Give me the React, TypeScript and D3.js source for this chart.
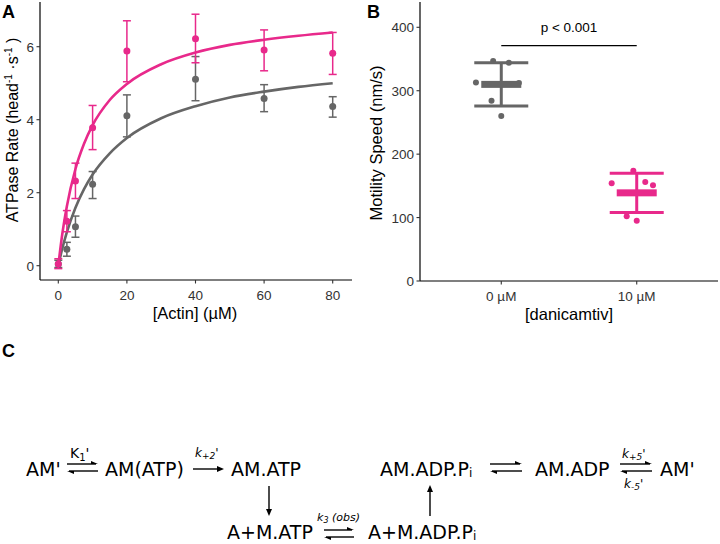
import React from "react";
import * as d3 from "d3";

// ---- Panel A: actin-activated ATPase ----
const actinConc = [0, 2.5, 5, 10, 20, 40, 60, 80];
const ctrlRate = [0.05, 0.45, 1.07, 2.23, 4.11, 5.11, 4.58, 4.36];
const ctrlLo = [-0.05, 0.26, 0.78, 1.84, 3.53, 4.52, 4.22, 4.07];
const ctrlHi = [0.15, 0.64, 1.36, 2.58, 4.68, 5.73, 4.96, 4.63];
const drugRate = [0.05, 1.22, 2.32, 3.78, 5.88, 6.22, 5.91, 5.82];
const drugLo = [-0.08, 0.93, 1.84, 3.18, 5.04, 5.56, 5.34, 5.24];
const drugHi = [0.19, 1.51, 2.81, 4.39, 6.71, 6.89, 6.46, 6.39];

// fitted curves
const fitX = [0, 1, 2.5, 5, 7.5, 10, 15, 20, 30, 40, 50, 60, 70, 80];
const ctrlFit = [0, 0.41, 0.92, 1.59, 2.1, 2.5, 3.08, 3.5, 4.04, 4.37, 4.61, 4.77, 4.9, 5.0];
const drugFit = [0, 0.76, 1.63, 2.65, 3.34, 3.85, 4.54, 4.98, 5.52, 5.84, 6.05, 6.19, 6.3, 6.39];

const ticksA_x = [0, 20, 40, 60, 80];
const ticksA_y = [0, 2, 4, 6];

// ---- Panel B: motility ----
const groups = ["0 µM", "10 µM"];
const speedMean = [310, 139];
const speedSd = [34, 31];
const ctrlSpeeds = [347, 344, 313, 312, 284, 260];
const ctrlJitter = [-0.06, 0.056, -0.187, 0.13, -0.072, 0];
const drugSpeeds = [154, 174, 156, 151, 102, 95];
const drugJitter = [-0.185, -0.025, 0.063, 0.12, -0.074, 0];
const sigY = 371;
const ticksB_y = [0, 100, 200, 300, 400];

const GRAY = "#666666";
const PINK = "#e8298b";
const SANS = "'Liberation Sans', Arial, Helvetica, sans-serif";
const DIAG = "'DejaVu Sans', sans-serif";

export default function App() {
  // panel A scales
  const xA = d3.scaleLinear().domain([0, 80]).range([58.3, 332.7]);
  const yA = d3.scaleLinear().domain([0, 6]).range([265.7, 46.7]);
  const lineA = d3
    .line<number>()
    .x((_, i) => xA(fitX[i]))
    .y((d) => yA(d))
    .curve(d3.curveMonotoneX);

  // panel B scales
  const xB = d3.scalePoint<string>().domain(groups).range([420, 718]).padding(0.6);
  const yB = d3.scaleLinear().domain([0, 400]).range([281, 27.3]);
  const step = xB.step();

  const series = [
    { rate: ctrlRate, lo: ctrlLo, hi: ctrlHi, fit: ctrlFit, color: GRAY },
    { rate: drugRate, lo: drugLo, hi: drugHi, fit: drugFit, color: PINK },
  ];

  const groupsB = [
    { speeds: ctrlSpeeds, jitter: ctrlJitter, color: GRAY },
    { speeds: drugSpeeds, jitter: drugJitter, color: PINK },
  ];

  const arrowHeadR = (x: number, y: number) => `M${x},${y} l-7,-3 l0,3 z`;
  const arrowHeadL = (x: number, y: number) => `M${x},${y} l7,3 l0,-3 z`;

  const equil = (x1: number, x2: number, y: number) => (
    <g>
      <line x1={x1} x2={x2 - 2} y1={y} y2={y} stroke="#000" strokeWidth={1.4} />
      <path d={arrowHeadR(x2, y)} fill="#000" />
      <line x1={x1 + 2} x2={x2} y1={y + 7} y2={y + 7} stroke="#000" strokeWidth={1.4} />
      <path d={arrowHeadL(x1, y + 7)} fill="#000" />
    </g>
  );

  return (
    <svg width={720} height={544} style={{ position: "absolute", left: 0, top: 0, background: "#fff" }}>
      {/* ===== Panel A ===== */}
      <text x={2} y={18} fontFamily={SANS} fontWeight="bold" fontSize={18}>A</text>
      <line x1={40} x2={40} y1={2} y2={280} stroke="#000" strokeWidth={1.2} />
      <line x1={40} x2={352} y1={280} y2={280} stroke="#000" strokeWidth={1.2} />
      {ticksA_y.map((t) => (
        <g key={t}>
          <line x1={36.5} x2={40} y1={yA(t)} y2={yA(t)} stroke="#333" strokeWidth={1.1} />
          <text x={34} y={yA(t) + 5} textAnchor="end" fontFamily={SANS} fontSize={13.5} fill="#333">{t}</text>
        </g>
      ))}
      {ticksA_x.map((t) => (
        <g key={t}>
          <line x1={xA(t)} x2={xA(t)} y1={280} y2={283.5} stroke="#333" strokeWidth={1.1} />
          <text x={xA(t)} y={299.5} textAnchor="middle" fontFamily={SANS} fontSize={13.5} fill="#333">{t}</text>
        </g>
      ))}
      <text x={195} y={319} textAnchor="middle" fontFamily={SANS} fontSize={16.5}>[Actin] (µM)</text>
      <text transform="translate(18,130) rotate(-90)" textAnchor="middle" fontFamily={SANS} fontSize={16}>
        ATPase Rate (head<tspan dy={-6} fontSize={10}>-1</tspan>
        <tspan dy={6}> ·s</tspan>
        <tspan dy={-6} fontSize={10}>-1</tspan>
        <tspan dy={6}> )</tspan>
      </text>
      {series.map((s, si) => (
        <g key={si}>
          <path d={lineA(s.fit) || ""} fill="none" stroke={s.color} strokeWidth={2.6} />
          {actinConc.map((c, i) => (
            <g key={i} stroke={s.color} strokeWidth={1.5}>
              <line x1={xA(c)} x2={xA(c)} y1={yA(s.lo[i])} y2={yA(s.hi[i])} />
              <line x1={xA(c) - 4} x2={xA(c) + 4} y1={yA(s.lo[i])} y2={yA(s.lo[i])} />
              <line x1={xA(c) - 4} x2={xA(c) + 4} y1={yA(s.hi[i])} y2={yA(s.hi[i])} />
              <circle cx={xA(c)} cy={yA(s.rate[i])} r={3.5} fill={s.color} stroke="none" />
            </g>
          ))}
        </g>
      ))}

      {/* ===== Panel B ===== */}
      <text x={367} y={18} fontFamily={SANS} fontWeight="bold" fontSize={18}>B</text>
      <line x1={420} x2={420} y1={2} y2={281} stroke="#000" strokeWidth={1.2} />
      <line x1={420} x2={718} y1={281} y2={281} stroke="#000" strokeWidth={1.2} />
      {ticksB_y.map((t) => (
        <g key={t}>
          <line x1={416.5} x2={420} y1={yB(t)} y2={yB(t)} stroke="#333" strokeWidth={1.1} />
          <text x={414} y={yB(t) + 5} textAnchor="end" fontFamily={SANS} fontSize={13.5} fill="#333">{t}</text>
        </g>
      ))}
      {groups.map((g) => (
        <g key={g}>
          <line x1={xB(g)!} x2={xB(g)!} y1={281} y2={284.5} stroke="#333" strokeWidth={1.1} />
          <text x={xB(g)!} y={300.5} textAnchor="middle" fontFamily={SANS} fontSize={13.5} fill="#333">{g}</text>
        </g>
      ))}
      <text x={569} y={320} textAnchor="middle" fontFamily={SANS} fontSize={16.5}>[danicamtiv]</text>
      <text transform="translate(382,143) rotate(-90)" textAnchor="middle" fontFamily={SANS} fontSize={16.5}>
        Motility Speed (nm/s)
      </text>
      {groupsB.map((gr, gi) => {
        const cx = xB(groups[gi])!;
        const m = speedMean[gi];
        const sd = speedSd[gi];
        return (
          <g key={gi}>
            {gr.speeds.map((v, i) => (
              <circle key={i} cx={cx + gr.jitter[i] * step} cy={yB(v)} r={3} fill={gr.color} />
            ))}
            <g stroke={gr.color} strokeWidth={3}>
              <line x1={cx} x2={cx} y1={yB(m - sd)} y2={yB(m + sd)} />
              <line x1={cx - 27} x2={cx + 27} y1={yB(m - sd)} y2={yB(m - sd)} />
              <line x1={cx - 27} x2={cx + 27} y1={yB(m + sd)} y2={yB(m + sd)} />
            </g>
            <rect x={cx - 20} y={yB(m) - 3.5} width={40} height={7} fill={gr.color} />
          </g>
        );
      })}
      <line x1={xB(groups[0])!} x2={xB(groups[1])!} y1={yB(sigY)} y2={yB(sigY)} stroke="#000" strokeWidth={1.3} />
      <text x={(xB(groups[0])! + xB(groups[1])!) / 2} y={32} textAnchor="middle" fontFamily={SANS} fontSize={13.5}>
        p &lt; 0.001
      </text>

      {/* ===== Panel C ===== */}
      <text x={2} y={357} fontFamily={SANS} fontWeight="bold" fontSize={18}>C</text>
      <g fontFamily={DIAG} fontSize={19}>
        <text x={26} y={476}>AM'</text>
        <text x={105} y={476}>AM(ATP)</text>
        <text x={231} y={476}>AM.ATP</text>
        <text x={227} y={539}>A+M.ATP</text>
        <text x={368} y={539}>
          A+M.ADP.P<tspan fontSize={12} dy={1}>i</tspan>
        </text>
        <text x={380} y={476}>
          AM.ADP.P<tspan fontSize={12} dy={1}>i</tspan>
        </text>
        <text x={535} y={476}>AM.ADP</text>
        <text x={660} y={476}>AM'</text>
      </g>
      {/* rate labels */}
      <text x={70} y={458} fontFamily={DIAG} fontSize={14}>
        K<tspan fontSize={10} dy={3}>1</tspan><tspan dy={-3}>'</tspan>
      </text>
      <text x={195} y={457} fontFamily={DIAG} fontSize={12} fontStyle="italic">
        k<tspan fontSize={9} dy={2}>+2</tspan><tspan dy={-2}>'</tspan>
      </text>
      <text x={317} y={521} fontFamily={DIAG} fontSize={11} fontStyle="italic">
        k<tspan fontSize={8} dy={2}>3</tspan><tspan dy={-2}> (obs)</tspan>
      </text>
      <text x={622} y={458} fontFamily={DIAG} fontSize={12} fontStyle="italic">
        k<tspan fontSize={9} dy={2}>+5</tspan><tspan dy={-2}>'</tspan>
      </text>
      <text x={624} y={488} fontFamily={DIAG} fontSize={12} fontStyle="italic">
        k<tspan fontSize={9} dy={2}>-5</tspan><tspan dy={-2}>'</tspan>
      </text>
      {/* arrows */}
      {equil(67, 98, 464)}
      <line x1={193} x2={221} y1={469} y2={469} stroke="#000" strokeWidth={1.4} />
      <path d="M224,469 l-7,-3 l0,6 z" fill="#000" />
      <line x1={269} x2={269} y1={486} y2={512} stroke="#000" strokeWidth={1.4} />
      <path d="M269,516 l-3,-7 l6,0 z" fill="#000" />
      {equil(324, 354, 530)}
      <line x1={430} x2={430} y1={516} y2={489} stroke="#000" strokeWidth={1.4} />
      <path d="M430,485 l-3,7 l6,0 z" fill="#000" />
      {equil(490, 522, 464)}
      {equil(620, 652, 464)}
    </svg>
  );
}
